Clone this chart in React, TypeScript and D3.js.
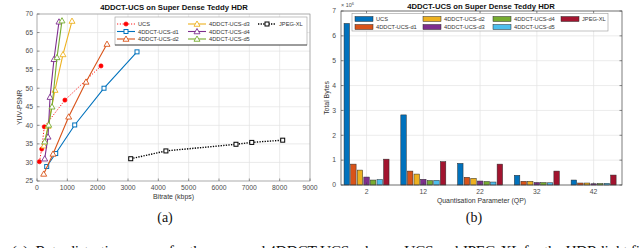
import React from 'react';
import * as d3 from 'd3';

// ---------- Left chart data ----------
const bitrateTicks = [0, 1000, 2000, 3000, 4000, 5000, 6000, 7000, 8000, 9000];
const psnrTicks = [25, 30, 35, 40, 45, 50, 55, 60, 65, 70];

const ucsRate = [80, 155, 240, 920, 2110];
const ucsPsnr = [30.2, 33.6, 39.6, 46.8, 56.0];
const d1Rate = [320, 617, 1243, 2209, 3297];
const d1Psnr = [28.9, 32.4, 40.1, 50.0, 59.8];
const d2Rate = [221, 528, 1045, 1615, 2308];
const d2Psnr = [26.9, 32.3, 42.3, 51.7, 61.9];
const d3Rate = [230, 363, 593, 857, 1154];
const d3Psnr = [34.5, 39.8, 49.5, 59.1, 68.1];
const d4Rate = [254, 363, 430, 560, 725];
const d4Psnr = [31.0, 36.9, 47.6, 57.8, 67.9];
const d5Rate = [254, 386, 495, 660, 824];
const d5Psnr = [35.6, 40.1, 45.0, 58.3, 68.2];
const jxlRate = [3090, 4250, 6560, 7080, 8100];
const jxlPsnr = [31.0, 33.1, 34.9, 35.4, 36.0];

// ---------- Right chart data ----------
const qpLabels = ['2', '12', '22', '32', '42'];
const byteTicks = [0, 1, 2, 3, 4, 5, 6, 7];
const bytesUCS = [6.5, 2.82, 0.87, 0.39, 0.2];
const bytesD1 = [0.84, 0.56, 0.31, 0.15, 0.08];
const bytesD2 = [0.6, 0.44, 0.27, 0.15, 0.08];
const bytesD3 = [0.32, 0.23, 0.16, 0.1, 0.05];
const bytesD4 = [0.2, 0.18, 0.14, 0.1, 0.06];
const bytesD5 = [0.22, 0.19, 0.12, 0.09, 0.07];
const bytesJXL = [1.04, 0.94, 0.84, 0.56, 0.4];

const SANS = '"Liberation Sans", Arial, Helvetica, sans-serif';
const SERIF = '"Liberation Serif", "Times New Roman", serif';

const C = {
  blue: '#0072BD',
  orange: '#D95319',
  yellow: '#EDB120',
  purple: '#7E2F8E',
  green: '#77AC30',
  lblue: '#4DBEEE',
  dred: '#A2142F',
  red: '#FF0000',
};

type Marker = 'circle' | 'square' | 'tri';
interface LineSeries {
  name: string;
  rate: number[];
  psnr: number[];
  color: string;
  marker: Marker;
  dash?: string;
  width: number;
}

const lineSeries: LineSeries[] = [
  { name: 'UCS', rate: ucsRate, psnr: ucsPsnr, color: C.red, marker: 'circle', dash: '1.2,1.6', width: 0.9 },
  { name: '4DDCT-UCS-d1', rate: d1Rate, psnr: d1Psnr, color: C.blue, marker: 'square', width: 1.1 },
  { name: '4DDCT-UCS-d2', rate: d2Rate, psnr: d2Psnr, color: C.orange, marker: 'tri', width: 1.1 },
  { name: '4DDCT-UCS-d3', rate: d3Rate, psnr: d3Psnr, color: C.yellow, marker: 'tri', width: 1.1 },
  { name: '4DDCT-UCS-d4', rate: d4Rate, psnr: d4Psnr, color: C.purple, marker: 'tri', width: 1.1 },
  { name: '4DDCT-UCS-d5', rate: d5Rate, psnr: d5Psnr, color: C.green, marker: 'tri', width: 1.1 },
  { name: 'JPEG-XL', rate: jxlRate, psnr: jxlPsnr, color: '#000', marker: 'square', dash: '1.3,1.3', width: 1.4 },
];

function MarkerShape({ m, x, y, color }: { m: Marker; x: number; y: number; color: string }) {
  if (m === 'circle') return <circle cx={x} cy={y} r={2.1} fill={color} stroke={color} strokeWidth={0.6} />;
  if (m === 'square')
    return <rect x={x - 2} y={y - 2} width={4} height={4} fill="white" stroke={color} strokeWidth={1} />;
  const s = 3;
  return (
    <path
      d={`M${x},${y - s} L${x + s},${y + s * 0.75} L${x - s},${y + s * 0.75} Z`}
      fill="white"
      stroke={color}
      strokeWidth={0.9}
    />
  );
}

function LeftChart() {
  const L = 37, R = 310, T = 14, B = 181;
  const x = d3.scaleLinear().domain([0, 9000]).range([L, R]);
  const y = d3.scaleLinear().domain([25, 70]).range([B, T]);
  const tc = '#4d4d4d';
  const legendCols = [
    { x: 117, items: [lineSeries[0], lineSeries[1], lineSeries[2]] },
    { x: 188, items: [lineSeries[3], lineSeries[4], lineSeries[5]] },
    { x: 258, items: [lineSeries[6]] },
  ];
  const rowsY = [24, 31.5, 39];
  return (
    <g>
      {bitrateTicks.map((t) => (
        <line key={'gx' + t} x1={x(t)} x2={x(t)} y1={T} y2={B} stroke="#e3e3e3" strokeWidth={0.7} />
      ))}
      {psnrTicks.map((t) => (
        <line key={'gy' + t} x1={L} x2={R} y1={y(t)} y2={y(t)} stroke="#e3e3e3" strokeWidth={0.7} />
      ))}
      <rect x={L} y={T} width={R - L} height={B - T} fill="none" stroke="#8a8a8a" strokeWidth={0.6} />
      {bitrateTicks.map((t) => (
        <g key={'tx' + t}>
          <line x1={x(t)} x2={x(t)} y1={B} y2={B - 2.5} stroke="#555" strokeWidth={0.6} />
          <text x={x(t)} y={190} fontSize={6.8} fill={tc} textAnchor="middle" fontFamily={SANS}>
            {t}
          </text>
        </g>
      ))}
      {psnrTicks.map((t) => (
        <g key={'ty' + t}>
          <line x1={L} x2={L + 2.5} y1={y(t)} y2={y(t)} stroke="#555" strokeWidth={0.6} />
          <text x={L - 4} y={y(t) + 2.3} fontSize={6.8} fill={tc} textAnchor="end" fontFamily={SANS}>
            {t}
          </text>
        </g>
      ))}
      <text x={(L + R) / 2} y={199} fontSize={6.9} fill="#333" textAnchor="middle" fontFamily={SANS}>
        Bitrate (kbps)
      </text>
      <text
        transform={`translate(21.5,${(T + B) / 2 + 10}) rotate(-90)`}
        fontSize={6.9}
        fill="#333"
        textAnchor="middle"
        fontFamily={SANS}
      >
        YUV-PSNR
      </text>
      <text x={174} y={10} fontSize={7.7} fontWeight="bold" fill="#111" textAnchor="middle" fontFamily={SANS}>
        4DDCT-UCS on Super Dense Teddy HDR
      </text>
      {lineSeries.map((s) => {
        const pts = s.rate.map((r, i) => [x(r), y(s.psnr[i])] as [number, number]);
        const path = d3.line()(pts) || '';
        return (
          <g key={s.name}>
            <path d={path} fill="none" stroke={s.color} strokeWidth={s.width} strokeDasharray={s.dash} />
            {pts.map((p, i) => (
              <MarkerShape key={i} m={s.marker} x={p[0]} y={p[1]} color={s.color} />
            ))}
          </g>
        );
      })}
      <rect x={115} y={17} width={192} height={28} fill="white" stroke="#9a9a9a" strokeWidth={0.6} />
      <line x1={115} x2={307} y1={45} y2={45} stroke="#333" strokeWidth={0.8} />
      {legendCols.map((col) =>
        col.items.map((s, ri) => {
          const yy = rowsY[ri];
          const lx1 = col.x;
          const lx2 = lx1 + 18;
          return (
            <g key={s.name}>
              <line x1={lx1} x2={lx2} y1={yy} y2={yy} stroke={s.color} strokeWidth={s.width} strokeDasharray={s.dash} />
              <MarkerShape m={s.marker} x={(lx1 + lx2) / 2} y={yy} color={s.color} />
              <text x={lx2 + 3} y={yy + 2.1} fontSize={5.7} fill="#333" fontFamily={SANS}>
                {s.name}
              </text>
            </g>
          );
        })
      )}
    </g>
  );
}

interface BarSeries {
  name: string;
  vals: number[];
  color: string;
}
const barSeries: BarSeries[] = [
  { name: 'UCS', vals: bytesUCS, color: C.blue },
  { name: '4DDCT-UCS-d1', vals: bytesD1, color: C.orange },
  { name: '4DDCT-UCS-d2', vals: bytesD2, color: C.yellow },
  { name: '4DDCT-UCS-d3', vals: bytesD3, color: C.purple },
  { name: '4DDCT-UCS-d4', vals: bytesD4, color: C.green },
  { name: '4DDCT-UCS-d5', vals: bytesD5, color: C.lblue },
  { name: 'JPEG-XL', vals: bytesJXL, color: C.dred },
];

function RightChart() {
  const L = 341, R = 622, T = 11, B = 185;
  const x = d3.scaleLinear().domain([-0.45, 4.5]).range([L, R]);
  const y = d3.scaleLinear().domain([0, 7]).range([B, T]);
  const inner = d3
    .scaleBand<string>()
    .domain(barSeries.map((s) => s.name))
    .range([-22.5, 22.5])
    .paddingInner(0.17);
  const tc = '#4d4d4d';
  const legendItems = [
    { s: barSeries[0], x: 355, y: 19 },
    { s: barSeries[1], x: 355, y: 27 },
    { s: barSeries[2], x: 423, y: 19 },
    { s: barSeries[3], x: 423, y: 27 },
    { s: barSeries[4], x: 493, y: 19 },
    { s: barSeries[5], x: 493, y: 27 },
    { s: barSeries[6], x: 561, y: 19 },
  ];
  return (
    <g>
      {qpLabels.map((q, i) => (
        <line key={'gx' + q} x1={x(i)} x2={x(i)} y1={T} y2={B} stroke="#e3e3e3" strokeWidth={0.7} />
      ))}
      {byteTicks.map((t) => (
        <line key={'gy' + t} x1={L} x2={R} y1={y(t)} y2={y(t)} stroke="#e3e3e3" strokeWidth={0.7} />
      ))}
      {barSeries.map((s) =>
        s.vals.map((v, i) => {
          const bx = x(i) + (inner(s.name) as number);
          return (
            <rect
              key={s.name + i}
              x={bx}
              y={y(v)}
              width={inner.bandwidth()}
              height={B - y(v)}
              fill={s.color}
              stroke="#2a2a2a"
              strokeWidth={0.5}
            />
          );
        })
      )}
      <rect x={L} y={T} width={R - L} height={B - T} fill="none" stroke="#444" strokeWidth={0.7} />
      {qpLabels.map((q, i) => (
        <g key={'tx' + q}>
          <line x1={x(i)} x2={x(i)} y1={B} y2={B - 2.5} stroke="#444" strokeWidth={0.6} />
          <line x1={x(i)} x2={x(i)} y1={T} y2={T + 2.5} stroke="#444" strokeWidth={0.6} />
          <text x={x(i)} y={194} fontSize={6.8} fill={tc} textAnchor="middle" fontFamily={SANS}>
            {q}
          </text>
        </g>
      ))}
      {byteTicks.map((t) => (
        <g key={'ty' + t}>
          <line x1={L} x2={L + 2.5} y1={y(t)} y2={y(t)} stroke="#444" strokeWidth={0.6} />
          <line x1={R} x2={R - 2.5} y1={y(t)} y2={y(t)} stroke="#444" strokeWidth={0.6} />
          <text x={L - 5} y={y(t) + 2.3} fontSize={6.8} fill={tc} textAnchor="end" fontFamily={SANS}>
            {t}
          </text>
        </g>
      ))}
      <text x={341} y={7} fontSize={5.4} fill={tc} fontFamily={SANS}>
        × 10
        <tspan dy={-2.3} fontSize={4}>
          6
        </tspan>
      </text>
      <text x={(L + R) / 2} y={203} fontSize={6.9} fill="#333" textAnchor="middle" fontFamily={SANS}>
        Quantisation Parameter (QP)
      </text>
      <text
        transform={`translate(328.5,${(T + B) / 2}) rotate(-90)`}
        fontSize={6.9}
        fill="#333"
        textAnchor="middle"
        fontFamily={SANS}
      >
        Total Bytes
      </text>
      <text x={481} y={9} fontSize={7.7} fontWeight="bold" fill="#111" textAnchor="middle" fontFamily={SANS}>
        4DDCT-UCS on Super Dense Teddy HDR
      </text>
      <rect x={352} y={13.5} width={256} height={17.5} fill="white" stroke="#9a9a9a" strokeWidth={0.6} />
      {legendItems.map(({ s, x: lx, y: ly }) => (
        <g key={s.name}>
          <rect x={lx} y={ly - 2.5} width={18} height={5} fill={s.color} stroke="#2a2a2a" strokeWidth={0.5} />
          <text x={lx + 21} y={ly + 2} fontSize={5.7} fill="#333" fontFamily={SANS}>
            {s.name}
          </text>
        </g>
      ))}
    </g>
  );
}

export default function App() {
  return (
    <svg
      width={640}
      height={248}
      viewBox="0 0 640 248"
      style={{ position: 'absolute', left: 0, top: 0, background: 'white' }}
    >
      <rect x={0} y={0} width={640} height={248} fill="white" />
      <LeftChart />
      <RightChart />
      <text x={165} y={222} fontSize={14} fill="#111" textAnchor="middle" fontFamily={SERIF}>
        (a)
      </text>
      <text x={474} y={222} fontSize={14} fill="#111" textAnchor="middle" fontFamily={SERIF}>
        (b)
      </text>
      <text x={-1} y={256} fontSize={15.5} fill="#111" fontFamily={SERIF} textLength={641} lengthAdjust="spacing">
        s. (a): Rate-distortion curves for the proposed 4DDCT-UCS scheme, UCS and JPEG-XL for the HDR light fi
      </text>
    </svg>
  );
}
